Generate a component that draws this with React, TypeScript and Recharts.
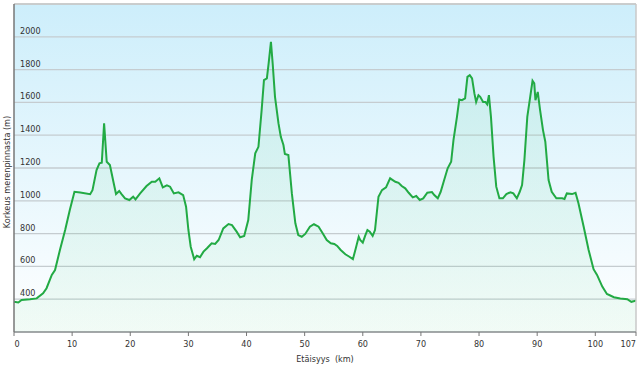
import React from "react";
import {
  AreaChart,
  Area,
  XAxis,
  YAxis,
  CartesianGrid,
  ReferenceLine,
} from "recharts";

// distance along the route (km) and elevation (m)
const distanceKm = [
  0, 0.75, 1.3, 2.75, 3.9, 5.0, 5.6, 6.5, 7.06, 7.9, 8.8, 9.6, 10.4, 11.4, 13.1,
  13.5, 14.2, 14.7, 15.1, 15.5, 15.95, 16.5, 17.1, 17.55, 18.1, 18.5, 19.1,
  19.85, 20.5, 20.9, 21.7, 22.8, 23.7, 24.3, 25.0, 25.6, 26.3, 26.85, 27.5,
  28.3, 29.1, 29.6, 30.0, 30.4, 31.0, 31.45, 32.0, 32.6, 33.2, 34.0, 34.6,
  35.2, 36.0, 36.9, 37.5, 38.3, 38.9, 39.6, 40.3, 40.9, 41.5, 42.05, 42.6,
  43.0, 43.5, 43.8, 44.2, 44.5, 44.9, 45.5, 45.9, 46.35, 46.6, 47.2, 47.8,
  48.4, 48.9, 49.5, 50.1, 50.9, 51.6, 52.4, 53.1, 53.8, 54.5, 55.1, 55.6,
  56.2, 57.0, 57.7, 58.3, 58.8, 59.3, 59.55, 60.0, 60.4, 60.8, 61.2, 61.7,
  62.1, 62.7, 63.3, 64.0, 64.7, 65.6, 66.15, 66.7, 67.3, 67.9, 68.6, 69.2,
  69.8, 70.4, 71.1, 71.9, 72.3, 72.9, 73.4, 74.0, 74.6, 75.2, 75.6, 76.2,
  76.6, 77.05, 77.6, 78.0, 78.4, 78.8, 79.2, 79.5, 79.9, 80.2, 80.7, 81.1,
  81.4, 81.7, 82.05, 82.5, 82.96, 83.5, 84.1, 84.7, 85.4, 85.9, 86.5, 87.0,
  87.4, 87.8, 88.3, 88.8, 89.2, 89.5, 89.7, 90.1, 90.5, 91.0, 91.4, 91.96,
  92.5, 93.3, 94.3, 94.7, 95.1, 96.0, 96.6, 97.1, 98.0, 98.85, 99.7, 100.3,
  101.2, 102.0, 103.2, 104.3, 105.5, 106.2, 106.9, 107,
];

const elevationM = [
  385, 380, 395, 400, 405, 436, 467, 548, 578, 700, 822, 944, 1055, 1050, 1040,
  1065, 1187, 1228, 1232, 1472, 1238, 1218, 1116, 1041, 1060, 1041, 1015,
  1005, 1025, 1009, 1045, 1090, 1116, 1116, 1137, 1082, 1094, 1086, 1045,
  1052, 1035, 964, 822, 720, 644, 665, 656, 690, 711, 741, 737,
  761, 832, 858, 852, 812, 778, 786, 883, 1127, 1289, 1329, 1553,
  1736, 1746, 1837, 1969, 1837, 1634, 1472, 1390, 1340, 1285, 1279, 1045,
  863, 791, 781, 798, 842, 857, 842, 802, 761, 741, 737, 725,
  700, 674, 659, 644, 711, 781, 761, 745, 786, 822, 812, 786,
  822, 1025, 1065, 1082, 1137, 1116, 1110, 1090, 1076, 1049, 1021, 1029,
  1005, 1015, 1049, 1053, 1035, 1015, 1055, 1127, 1198, 1238, 1370, 1512,
  1618, 1614, 1624, 1756, 1766, 1746, 1655, 1603, 1644, 1634, 1603, 1603,
  1588, 1644, 1512, 1268, 1086, 1015, 1015, 1041, 1052, 1045, 1015, 1055,
  1096, 1248, 1512, 1634, 1732, 1716, 1614, 1664, 1553, 1431, 1360, 1127,
  1055, 1015, 1015, 1011, 1045, 1041, 1049, 985, 842, 700, 583, 548,
  477, 432, 412, 404, 400, 384, 391, 390,
];

const xTicks = [0, 10, 20, 30, 40, 50, 60, 70, 80, 90, 100, 107];
const yTicks = [400, 600, 800, 1000, 1200, 1400, 1600, 1800, 2000];

const data = distanceKm.map((km, i) => ({ km, elev: elevationM[i] }));

const FONT = "'DejaVu Sans Condensed', 'DejaVu Sans', Verdana, sans-serif";

const YTick = (props: any) => {
  const { y, payload } = props;
  return (
    <text x={20} y={y - 3} fontSize={9} fontFamily={FONT} fill="#333">
      {payload.value}
    </text>
  );
};

const XTick = (props: any) => {
  const { x, payload } = props;
  let anchor = "middle";
  let tx = x;
  if (payload.value === 0) {
    anchor = "start";
    tx = x + 0.5;
  } else if (payload.value === 107) {
    anchor = "end";
  }
  return (
    <text x={tx} y={346.5} fontSize={9} fontFamily={FONT} fill="#333" textAnchor={anchor}>
      {payload.value}
    </text>
  );
};

export default function App() {
  return (
    <div style={{ position: "absolute", left: 0, top: 0 }}>
      <AreaChart
        width={640}
        height={366}
        data={data}
        margin={{ top: 4, right: 4, left: 13, bottom: 0 }}
      >
        <defs>
          <linearGradient id="bg" x1="0" y1="0" x2="0" y2="1">
            <stop offset="0%" stopColor="#cdeefb" />
            <stop offset="100%" stopColor="#ffffff" />
          </linearGradient>
          <linearGradient id="areaFill" x1="0" y1="0" x2="0" y2="1">
            <stop offset="0%" stopColor="#3cc878" stopOpacity={0.1} />
            <stop offset="100%" stopColor="#3cc878" stopOpacity={0.07} />
          </linearGradient>
        </defs>
        <CartesianGrid
          vertical={false}
          stroke="#c5ccd0"
          strokeWidth={1.3}
          fill="url(#bg)"
          fillOpacity={1}
        />
        <XAxis
          dataKey="km"
          type="number"
          domain={[0, 107]}
          ticks={xTicks}
          height={34}
          tickSize={4}
          tick={<XTick />}
          stroke="#777"
          interval={0}
          label={{
            content: () => (
              <text
                x={325}
                y={362}
                fontSize={9}
                fontFamily={FONT}
                fill="#333"
                textAnchor="middle"
                style={{ whiteSpace: "pre" }}
              >
                {"Etäisyys  (km)"}
              </text>
            ),
          }}
        />
        <YAxis
          type="number"
          domain={[200, 2200]}
          ticks={yTicks}
          width={1}
          tickLine={false}
          tick={<YTick />}
          stroke="#777"
          strokeWidth={1.5}
          interval={0}
          label={{
            content: () => (
              <text
                x={10}
                y={172}
                transform="rotate(-90, 10, 172)"
                fontSize={9}
                fontFamily={FONT}
                fill="#333"
                textAnchor="middle"
              >
                Korkeus merenpinnasta (m)
              </text>
            ),
          }}
        />
        <ReferenceLine y={2200} stroke="#c8c8c8" strokeWidth={1.5} />
        <ReferenceLine x={107} stroke="#c8c8c8" strokeWidth={1.5} />
        <Area
          type="linear"
          dataKey="elev"
          stroke="#22aa44"
          strokeWidth={2}
          fill="url(#areaFill)"
          fillOpacity={1}
          isAnimationActive={false}
          dot={false}
          activeDot={false}
        />
      </AreaChart>
    </div>
  );
}
